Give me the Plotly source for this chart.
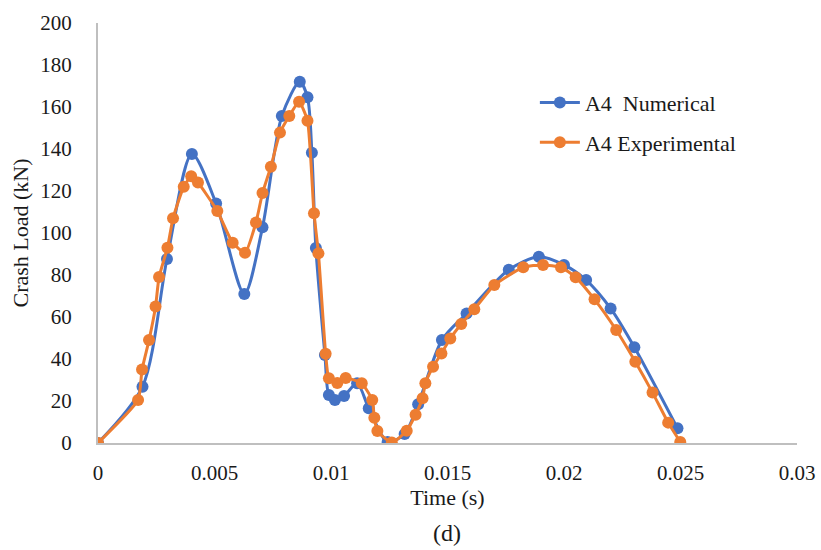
import plotly.graph_objects as go

# Numerical (blue)
num_t = [0.0, 0.00191, 0.00296, 0.00403, 0.00507, 0.00628, 0.00706, 0.00789, 0.00866,
         0.00899, 0.00918, 0.00935, 0.00974, 0.00991, 0.01017, 0.01056, 0.01112, 0.01162,
         0.01243, 0.01316, 0.01374, 0.01476, 0.01582, 0.01763, 0.01892, 0.02000, 0.02095,
         0.02200, 0.02302, 0.02487]
num_load = [0, 26.8, 87.6, 137.6, 114, 71, 102.7, 155.7, 172,
            164.6, 138.2, 92.9, 41.9, 22.9, 20.5, 22.4, 28.4, 16.5,
            0.5, 4.3, 18.5, 49, 61.7, 82.5, 88.7, 84.8, 77.6,
            64.1, 45.6, 7]

# Experimental (orange)
exp_t = [0.0, 0.00172, 0.00189, 0.00219, 0.00247, 0.00262, 0.00298, 0.00322, 0.00368,
         0.00400, 0.00429, 0.00512, 0.00578, 0.00631, 0.00678, 0.00706, 0.00742, 0.00781,
         0.00821, 0.00863, 0.00899, 0.00927, 0.00946, 0.00977, 0.00991, 0.01027, 0.01063,
         0.01132, 0.01177, 0.01186, 0.01199, 0.01261, 0.01325, 0.01363, 0.01393, 0.01405,
         0.01438, 0.01474, 0.01512, 0.01559, 0.01615, 0.01701, 0.01825, 0.01910, 0.01987,
         0.02050, 0.02131, 0.02224, 0.02306, 0.02380, 0.02447, 0.02499]
exp_load = [0, 20.5, 35, 49, 65, 79, 93, 107, 122,
            127, 124, 110.5, 95.4, 90.6, 105, 119, 131.6, 147.8,
            155.7, 162.5, 153.5, 109.4, 90.3, 42.5, 30.8, 28.6, 31,
            28.4, 20.5, 12, 5.7, 0.2, 5.8, 13.5, 21.3, 28.4,
            36.3, 42.6, 49.8, 56.7, 63.7, 75.2, 83.7, 84.8, 83.7,
            78.9, 68.4, 53.8, 38.7, 24, 9.7, 0.5]

x_ticks = [0, 0.005, 0.01, 0.015, 0.02, 0.025, 0.03]
x_tick_text = ["0", "0.005", "0.01", "0.015", "0.02", "0.025", "0.03"]
y_ticks = list(range(0, 201, 20))

BLUE = "#4472C4"
ORANGE = "#ED7D31"
FONT = "Liberation Serif"
TXT = "#1a1a1a"

fig = go.Figure()
fig.add_trace(go.Scatter(
    x=num_t, y=num_load, mode="lines+markers", name="A4\u00a0\u00a0Numerical",
    legendgroup="a",
    line=dict(color=BLUE, width=3, shape="spline", smoothing=0.8),
    marker=dict(color=BLUE, size=12)))
fig.add_trace(go.Scatter(
    x=exp_t, y=exp_load, mode="lines+markers", name="A4 Experimental",
    legendgroup="b",
    line=dict(color=ORANGE, width=3, shape="spline", smoothing=0.5),
    marker=dict(color=ORANGE, size=12)))

fig.update_layout(
    width=821, height=550,
    margin=dict(l=98, r=24, t=23, b=107, autoexpand=False),
    paper_bgcolor="white", plot_bgcolor="white",
    font=dict(family=FONT, size=21, color=TXT),
    showlegend=True,
    legend=dict(x=0.625, y=0.86, xanchor="left", yanchor="top",
                font=dict(family=FONT, size=22, color=TXT),
                bgcolor="rgba(0,0,0,0)", itemwidth=40, tracegroupgap=8),
    xaxis=dict(range=[0, 0.03], tickvals=x_ticks, ticktext=x_tick_text,
               showgrid=False, zeroline=False, showline=True, linecolor="#BFBFBF",
               linewidth=2, ticks="", ticklabelstandoff=10,
               title=dict(text="Time (s)", standoff=0,
                          font=dict(family=FONT, size=22, color=TXT))),
    yaxis=dict(range=[0, 200], tickvals=y_ticks,
               showgrid=False, zeroline=False, showline=True, linecolor="#BFBFBF",
               linewidth=2, ticks="", ticklabelstandoff=20,
               title=dict(text="Crash Load (kN)", standoff=6,
                          font=dict(family=FONT, size=22, color=TXT))),
    annotations=[dict(text="(d)", x=410 / 821, y=-0.215, xref="paper", yref="paper",
                      showarrow=False, xanchor="center", yanchor="middle",
                      font=dict(family=FONT, size=24, color=TXT))],
)

fig.write_html("out.html")
